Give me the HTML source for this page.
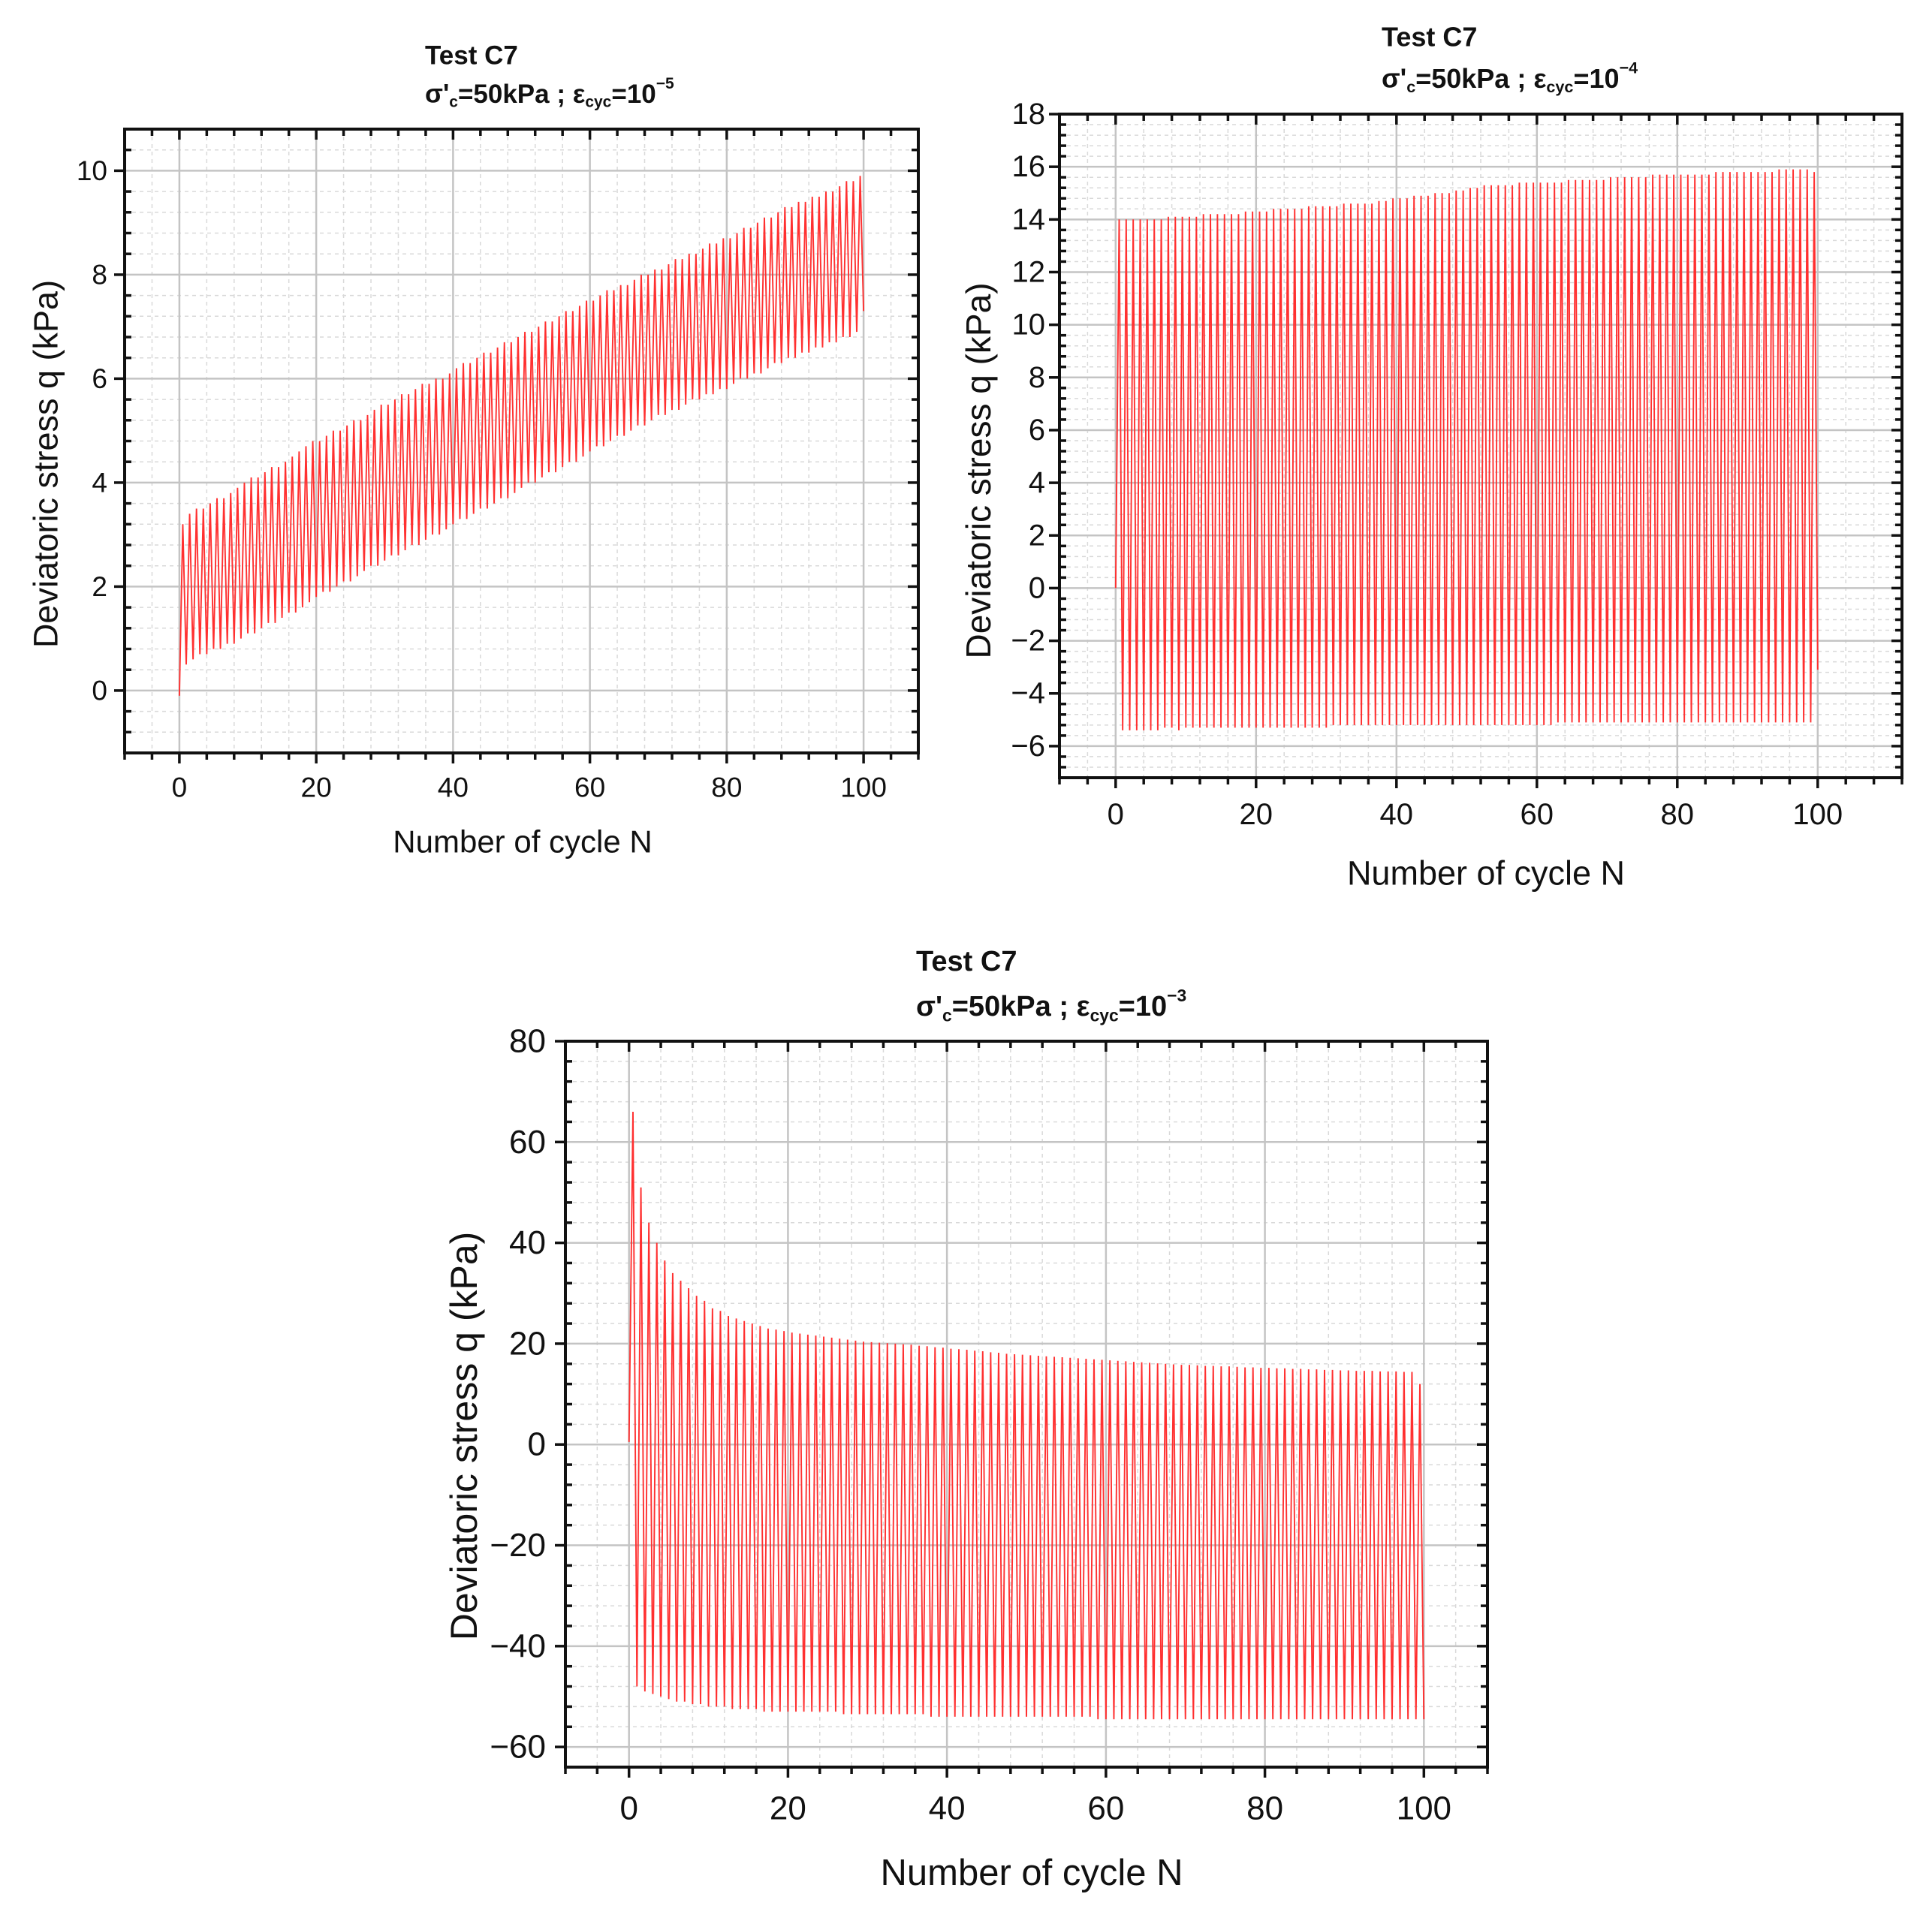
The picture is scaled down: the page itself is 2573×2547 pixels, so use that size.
<!DOCTYPE html>
<html><head><meta charset="utf-8"><style>
html,body{margin:0;padding:0;background:#fff;}
svg{display:block;font-family:"Liberation Sans",Arial,sans-serif;}
</style></head><body>
<svg id="root" width="2573" height="2547" viewBox="0 0 2573 2547" xmlns="http://www.w3.org/2000/svg"></svg>
<script>
// Chart 1 data (eps=1e-5)
const c1Max=[3.2,3.4,3.5,3.5,3.6,3.7,3.7,3.8,3.9,4.0, 4.1,4.1,4.2,4.3,4.3,4.4,4.5,4.6,4.7,4.8, 4.8,4.9,5.0,5.0,5.1,5.2,5.2,5.3,5.4,5.5, 5.5,5.6,5.7,5.7,5.8,5.9,5.9,6.0,6.0,6.1, 6.2,6.3,6.3,6.4,6.5,6.5,6.6,6.7,6.7,6.8, 6.9,6.9,7.0,7.1,7.1,7.2,7.3,7.3,7.4,7.5, 7.5,7.6,7.7,7.7,7.8,7.8,7.9,8.0,8.0,8.1, 8.1,8.2,8.3,8.3,8.4,8.4,8.5,8.6,8.6,8.7, 8.7,8.8,8.9,8.9,9.0,9.1,9.1,9.2,9.3,9.3, 9.4,9.4,9.5,9.5,9.6,9.6,9.7,9.8,9.8,9.9];
const c1Min=[0.5,0.6,0.7,0.7,0.8,0.8,0.9,0.9,1.0,1.1, 1.1,1.2,1.3,1.3,1.4,1.5,1.5,1.6,1.7,1.8, 1.9,1.9,2.0,2.1,2.1,2.2,2.3,2.4,2.4,2.5, 2.6,2.6,2.7,2.8,2.8,2.9,3.0,3.0,3.1,3.2, 3.3,3.3,3.4,3.5,3.5,3.6,3.7,3.7,3.8,3.9, 4.0,4.0,4.1,4.2,4.2,4.3,4.4,4.4,4.5,4.6, 4.7,4.7,4.8,4.9,4.9,5.0,5.1,5.1,5.2,5.3, 5.3,5.4,5.4,5.5,5.6,5.6,5.7,5.7,5.8,5.8, 5.9,6.0,6.0,6.1,6.1,6.2,6.3,6.3,6.4,6.4, 6.5,6.5,6.6,6.6,6.7,6.7,6.8,6.8,6.9,7.3];
// Chart 2 data (eps=1e-4)
const c2Max=[14.0,14.0,14.0,14.0,14.0,14.0,14.0,14.1,14.1,14.1, 14.1,14.1,14.2,14.2,14.2,14.2,14.2,14.2,14.3,14.3, 14.3,14.3,14.4,14.4,14.4,14.4,14.4,14.5,14.5,14.5, 14.5,14.5,14.6,14.6,14.6,14.6,14.6,14.7,14.7,14.8, 14.8,14.8,14.9,14.9,14.9,15.0,15.0,15.0,15.1,15.1, 15.2,15.2,15.3,15.3,15.3,15.3,15.3,15.4,15.4,15.4, 15.4,15.4,15.4,15.4,15.5,15.5,15.5,15.5,15.5,15.5, 15.6,15.6,15.6,15.6,15.6,15.6,15.7,15.7,15.7,15.7, 15.7,15.7,15.7,15.7,15.7,15.8,15.8,15.8,15.8,15.8, 15.8,15.8,15.8,15.8,15.9,15.9,15.9,15.9,15.9,15.8];
const c2Min=[-5.4,-5.4,-5.4,-5.4,-5.4,-5.4,-5.3,-5.3,-5.4,-5.3, -5.3,-5.3,-5.3,-5.3,-5.3,-5.3,-5.3,-5.3,-5.3,-5.3, -5.3,-5.3,-5.3,-5.3,-5.3,-5.3,-5.3,-5.3,-5.3,-5.3, -5.2,-5.2,-5.2,-5.2,-5.2,-5.2,-5.2,-5.2,-5.2,-5.2, -5.2,-5.2,-5.2,-5.2,-5.2,-5.2,-5.2,-5.2,-5.2,-5.2, -5.2,-5.2,-5.2,-5.2,-5.2,-5.2,-5.2,-5.2,-5.2,-5.2, -5.2,-5.2,-5.1,-5.1,-5.1,-5.1,-5.1,-5.1,-5.1,-5.1, -5.1,-5.1,-5.1,-5.1,-5.1,-5.1,-5.1,-5.1,-5.1,-5.1, -5.1,-5.1,-5.1,-5.1,-5.1,-5.1,-5.1,-5.1,-5.1,-5.1, -5.1,-5.1,-5.1,-5.1,-5.1,-5.1,-5.1,-5.1,-5.1,-3.1];
// Chart 3 data (eps=1e-3)
const c3Max=[66,51,44,40,36.5,34,32.5,31,29.5,28.5, 27,26.5,25.5,25,24.5,24,23.5,23,22.8,22.5, 22.2,22,21.8,21.6,21.4,21.2,21,20.8,20.6,20.4, 20.3,20.2,20.1,20,19.9,19.8,19.6,19.5,19.3,19.2, 19,18.9,18.8,18.6,18.5,18.3,18.2,18,17.9,17.8, 17.7,17.6,17.5,17.4,17.3,17.2,17.1,17,16.9,16.8, 16.7,16.6,16.5,16.4,16.3,16.2,16.1,16,15.9,15.8, 15.8,15.7,15.6,15.6,15.5,15.5,15.4,15.3,15.3,15.2, 15.2,15.1,15.1,15,15,14.9,14.9,14.8,14.8,14.7, 14.7,14.6,14.6,14.6,14.5,14.5,14.5,14.4,14.4,12];
const c3Min=[-48,-49,-49.5,-50,-50.5,-51,-51,-51.5,-51.5,-52, -52,-52,-52.5,-52.5,-52.5,-52.5,-53,-53,-53,-53, -53,-53,-53,-53,-53,-53,-53.5,-53.5,-53.5,-53.5, -53.5,-53.5,-53.5,-53.5,-53.5,-53.5,-53.5,-54,-54,-54, -54,-54,-54,-54,-54,-54,-54,-54,-54,-54, -54,-54,-54,-54,-54,-54,-54,-54,-54.5,-54.5, -54.5,-54.5,-54.5,-54.5,-54.5,-54.5,-54.5,-54.5,-54.5,-54.5, -54.5,-54.5,-54.5,-54.5,-54.5,-54.5,-54.5,-54.5,-54.5,-54.5, -54.5,-54.5,-54.5,-54.5,-54.5,-54.5,-54.5,-54.5,-54.5,-54.5, -54.5,-54.5,-54.5,-54.5,-54.5,-54.5,-54.5,-54.5,-54.5,-54.5];
const xTicks=[0,20,40,60,80,100];
const y1Ticks=[0,2,4,6,8,10];
const y2Ticks=[-6,-4,-2,0,2,4,6,8,10,12,14,16,18];
const y3Ticks=[-60,-40,-20,0,20,40,60,80];

const NS='http://www.w3.org/2000/svg';
const root=document.getElementById('root');
function mk(tag,attrs,parent){const e=document.createElementNS(NS,tag);for(const k in attrs)e.setAttribute(k,attrs[k]);(parent||root).appendChild(e);return e;}

function chart(cfg){
  const g=mk('g',{});
  
  
  const X=v=>cfg.L+(v-cfg.x0)/(cfg.x1-cfg.x0)*(cfg.R-cfg.L);
  const Y=v=>cfg.B-(v-cfg.y0)/(cfg.y1-cfg.y0)*(cfg.B-cfg.T);
  const gm=mk('g',{stroke:'#d9d9d9','stroke-width':1.5,'stroke-dasharray':'5 5'},g);
  
  
  for(let v=-8;v<=cfg.x1;v+=4){if(v%20!==0)mk('line',{x1:X(v),x2:X(v),y1:cfg.T,y2:cfg.B},gm);}
  for(let k=Math.ceil(cfg.y0/cfg.ym);k*cfg.ym<=cfg.y1+1e-9;k++){const v=k*cfg.ym;if(Math.abs(v/cfg.yM-Math.round(v/cfg.yM))>1e-6)mk('line',{x1:cfg.L,x2:cfg.R,y1:Y(v),y2:Y(v)},gm);}
  const gM=mk('g',{stroke:'#c4c4c4','stroke-width':2.5},g);
  
  
  xTicks.forEach(v=>mk('line',{x1:X(v),x2:X(v),y1:cfg.T,y2:cfg.B},gM));
  cfg.yt.forEach(v=>mk('line',{x1:cfg.L,x2:cfg.R,y1:Y(v),y2:Y(v)},gM));
  let d='M'+X(0)+','+Y(cfg.start);
  for(let i=0;i<cfg.mx.length;i++){d+=' L'+X(i+0.5)+','+Y(cfg.mx[i])+' L'+X(i+1)+','+Y(cfg.mn[i]);}
  const p=mk('path',{d:d,fill:'none',stroke:'#ff3030','stroke-width':1.9,'stroke-linejoin':'miter'},g);
  
  
  const fr=mk('rect',{x:cfg.L,y:cfg.T,width:cfg.R-cfg.L,height:cfg.B-cfg.T,fill:'none',stroke:'#111','stroke-width':4},g);
  
  
  const gt=mk('g',{stroke:'#111','stroke-width':3.5},g);
  
  
  for(let v=-8;v<=cfg.x1;v+=4){const maj=v%20===0;const l=maj?14:9;
    mk('line',{x1:X(v),x2:X(v),y1:cfg.B,y2:cfg.B+l},gt);
    mk('line',{x1:X(v),x2:X(v),y1:cfg.T,y2:cfg.T+l},gt);}
  for(let k=Math.ceil(cfg.y0/cfg.ym);k*cfg.ym<=cfg.y1+1e-9;k++){const v=k*cfg.ym;const maj=Math.abs(v/cfg.yM-Math.round(v/cfg.yM))<1e-6;const l=maj?14:9;
    mk('line',{x1:cfg.L-(maj?l:0),x2:cfg.L+(maj?0:l),y1:Y(v),y2:Y(v)},gt);
    mk('line',{x1:cfg.R-l,x2:cfg.R,y1:Y(v),y2:Y(v)},gt);}
  xTicks.forEach(v=>{const t=mk('text',{x:X(v),y:cfg.xly,'font-size':cfg.tf,'text-anchor':'middle','dominant-baseline':'central',fill:'#111'},g);t.textContent=v;
    
    });
  cfg.yt.forEach(v=>{const t=mk('text',{x:cfg.ylx,y:Y(v),'font-size':cfg.tf,'text-anchor':'end','dominant-baseline':'central',fill:'#111'},g);t.textContent=(v<0?'\u2212'+(-v):v);
    
    });
  const xt=mk('text',{x:cfg.xtx,y:cfg.xty,'font-size':cfg.af,'text-anchor':'middle','dominant-baseline':'central',fill:'#111'},g);
  xt.textContent='Number of cycle N';
  
  
  const yt=mk('text',{x:0,y:0,'font-size':cfg.yf,'text-anchor':'middle','dominant-baseline':'central',fill:'#111',transform:'translate('+cfg.ytx+','+cfg.yty+') rotate(-90)'},g);
  yt.textContent='Deviatoric stress q (kPa)';
  
  
  const t1=mk('text',{x:cfg.tx,y:cfg.t1y,'font-size':cfg.hf,'font-weight':'bold','dominant-baseline':'central',fill:'#111'},g);
  t1.textContent='Test C7';
  
  
  const t2=mk('text',{x:cfg.tx,y:cfg.t2y,'font-size':cfg.hf,'font-weight':'bold','dominant-baseline':'central',fill:'#111'},g);
  
  
  const sub=cfg.hf*0.6;
  t2.innerHTML="σ'<tspan font-size='"+sub+"' dy='"+(cfg.hf*0.3)+"'>c</tspan><tspan dy='"+(-cfg.hf*0.3)+"'>=50kPa ; ε</tspan><tspan font-size='"+sub+"' dy='"+(cfg.hf*0.3)+"'>cyc</tspan><tspan dy='"+(-cfg.hf*0.3)+"'>=10</tspan><tspan font-size='"+sub+"' dy='"+(-cfg.hf*0.4)+"'>\u2212"+cfg.exp+"</tspan>";
}

chart({name:'chart-strain-1e-5',L:166,R:1223,T:172,B:1003,x0:-8,x1:108,y0:-1.2,y1:10.8,yM:2,ym:0.4,yt:y1Ticks,mx:c1Max,mn:c1Min,start:-0.1,
  xly:1049,ylx:143,tf:37,af:42,yf:45,xtx:696,xty:1121,ytx:61,yty:618,tx:566,t1y:74,t2y:125,hf:35,exp:5});
chart({name:'chart-strain-1e-4',L:1411,R:2533,T:152,B:1036,x0:-8,x1:112,y0:-7.2,y1:18,yM:2,ym:0.4,yt:y2Ticks,mx:c2Max,mn:c2Min,start:0,
  xly:1085,ylx:1392,tf:40,af:45,yf:46,xtx:1979,xty:1163,ytx:1303,yty:627,tx:1840,t1y:49,t2y:104,hf:36,exp:4});
chart({name:'chart-strain-1e-3',L:753,R:1981,T:1387,B:2354,x0:-8,x1:108,y0:-64,y1:80,yM:20,ym:4,yt:y3Ticks,mx:c3Max,mn:c3Min,start:0.5,
  xly:2409,ylx:727,tf:44,af:49,yf:50,xtx:1374,xty:2495,ytx:618,yty:1913,tx:1220,t1y:1281,t2y:1341,hf:38,exp:3});
</script>
</body></html>
